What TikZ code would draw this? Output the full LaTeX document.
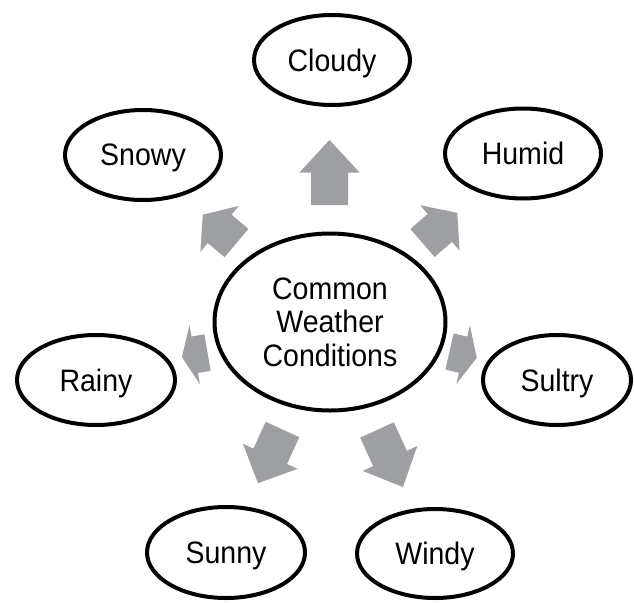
\documentclass[tikz,border=0pt]{standalone}
\usepackage{fontspec}
\setmainfont{Liberation Sans}[FakeStretch=0.92]
\usetikzlibrary{shapes.geometric}
\definecolor{arrowgray}{RGB}{157,159,162}
\tikzset{
  topic/.style={ellipse, draw=black, line width=4pt, inner sep=0pt,
    minimum width=156pt, minimum height=90pt, text depth=0pt,
    font=\fontsize{31}{33.5}\selectfont, align=center},
  % block arrow of length #1 whose tail sits at the pic origin, pointing along +x
  pics/blockarrow/.style={code={
    \fill[arrowgray] (0pt,-18.5pt) -- ({0.5*#1*1pt},-18.5pt) -- ({0.5*#1*1pt},-30pt)
      -- ({#1*1pt},0pt) -- ({0.5*#1*1pt},30pt) -- ({0.5*#1*1pt},18.5pt)
      -- (0pt,18.5pt) -- cycle;
  }}
}
\begin{document}
\begin{tikzpicture}[x=1pt,y=-1pt]
  \useasboundingbox (0,0) rectangle (634,602);
  \fill[white] (0,0) rectangle (634,602);

  % central topic
  \node[topic, minimum width=231pt, minimum height=177pt] (center) at (330,322)
    {Common\\Weather\\Conditions};

  % surrounding conditions
  \node[topic] (cloudy) at (332,60) {Cloudy};
  \node[topic] (snowy)  at (143,155) {Snowy};
  \node[topic] (humid)  at (523,153.5) {Humid};
  \node[topic, minimum width=158pt] (rainy) at (96,380) {Rainy};
  \node[topic, minimum width=148pt] (sultry) at (557,380) {Sultry};
  \node[topic, minimum width=158pt, minimum height=91pt] (sunny) at (226,552.5) {Sunny};
  \node[topic, minimum height=89pt] (windy) at (435,553.5) {Windy};

  % arrows radiating from the central topic
  \pic (toCloudy) [rotate=90]     at (329.5,205)   {blockarrow=65};
  \pic (toSnowy)  [rotate=140]    at (236.5,243)   {blockarrow=44};
  \pic (toHumid)  [rotate=41]     at (422.5,243)   {blockarrow=46};
  \pic (toSultry) [rotate=-13]    at (449.5,351.5) {blockarrow=28};
  \pic (toRainy)  [rotate=190]    at (207.5,352.5) {blockarrow=26};
  \pic (toSunny)  [rotate=-114.6] at (282.5,429.5) {blockarrow=59};
  \pic (toWindy)  [rotate=-65.5]  at (377,430)     {blockarrow=62.6};
\end{tikzpicture}
\end{document}
